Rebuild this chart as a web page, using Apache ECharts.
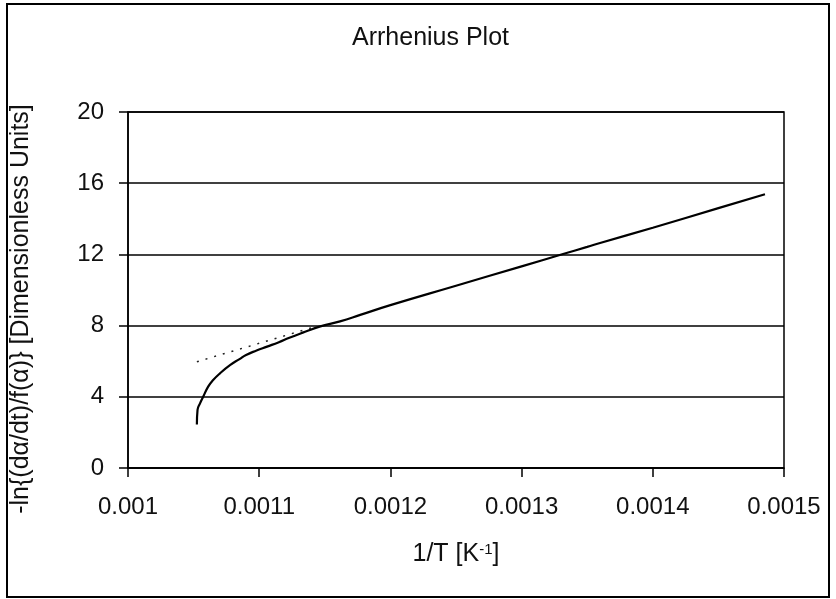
<!DOCTYPE html>
<html>
<head>
<meta charset="utf-8">
<script src="https://cdn.jsdelivr.net/npm/echarts@6/dist/echarts.min.js"></script>
<style>html,body{margin:0;padding:0;background:#fff}#c{width:836px;height:599px}</style>
</head>
<body>
<div id="c"></div>
<script>
const titleText = "Arrhenius Plot";
const xAxisName = "1/T [K";
const yAxisName = "-ln{(d\u03B1/dt)/f(\u03B1)} [Dimensionless Units]";
const xTicks = [0.001, 0.0011, 0.0012, 0.0013, 0.0014, 0.0015];
const yTicks = [0, 4, 8, 12, 16, 20];
// measured curve: 1/T and -ln{(da/dt)/f(a)}
const invT = [0.0010525, 0.001053, 0.0010549, 0.0010573, 0.0010611, 0.0010649, 0.0010701, 0.001078, 0.001085, 0.00109, 0.001098, 0.001106, 0.001115, 0.001123, 0.001135, 0.001146, 0.0011616, 0.001177, 0.0012, 0.00125, 0.0013, 0.0013316, 0.00135, 0.0013598, 0.0014, 0.00145, 0.0014855];
const lnRate = [2.45, 3.26, 3.63, 4.0, 4.57, 4.94, 5.32, 5.79, 6.12, 6.35, 6.6, 6.82, 7.07, 7.32, 7.65, 7.94, 8.24, 8.6, 9.15, 10.24, 11.33, 12.02, 12.42, 12.64, 13.5, 14.6, 15.38];
// dotted linear extrapolation
const fitX = [0.0010525, 0.001141];
const fitY = [5.97, 7.9];

const font = 'Arial, "Liberation Sans", sans-serif';
const fs = 25;
const fsTick = 24;
const chart = echarts.init(document.getElementById('c'));
chart.setOption({
  backgroundColor: '#fff',
  animation: false,
  title: {
    text: titleText, left: 347, top: 21,
    textStyle: {fontFamily: font, fontSize: fs, fontWeight: 'normal', color: '#111'}
  },
  graphic: [{
    type: 'rect', shape: {x: 7, y: 4, width: 822, height: 593},
    style: {fill: 'none', stroke: '#000', lineWidth: 2}, silent: true
  }],
  grid: {left: 128, right: 52, top: 112, bottom: 131, show: true, borderColor: '#000', borderWidth: 1.5, backgroundColor: '#fff'},
  xAxis: {
    type: 'value', min: xTicks[0], max: xTicks[xTicks.length - 1], interval: 0.0001,
    name: '{n|' + xAxisName + '}{s|-1}{n|]}', nameLocation: 'middle', nameGap: 74,
    nameTextStyle: {rich: {
      n: {fontFamily: font, fontSize: fs, color: '#111'},
      s: {fontFamily: font, fontSize: 15, color: '#111', verticalAlign: 'top', padding: [0, 0, 10, 0]}
    }},
    axisLine: {show: true, onZero: false, lineStyle: {color: '#000', width: 1.5}},
    axisTick: {show: true, length: 9, lineStyle: {color: '#000', width: 1.5}},
    axisLabel: {margin: 27, fontFamily: font, fontSize: fsTick, color: '#111',
      formatter: v => { const t = xTicks.find(k => Math.abs(k - v) < 1e-9); return t === undefined ? '' : String(t); }},
    splitLine: {show: false}
  },
  yAxis: {
    type: 'value', min: yTicks[0], max: yTicks[yTicks.length - 1], interval: 4,
    name: yAxisName, nameLocation: 'middle', nameGap: 94,
    nameTextStyle: {fontFamily: font, fontSize: fs, color: '#111', padding: [0, 38, 0, 0]},
    axisLine: {show: true, onZero: false, lineStyle: {color: '#000', width: 1.5}},
    axisTick: {show: true, length: 9, lineStyle: {color: '#000', width: 1.5}},
    axisLabel: {margin: 24, fontFamily: font, fontSize: fsTick, color: '#111'},
    splitLine: {show: true, lineStyle: {color: '#000', width: 1.5}}
  },
  series: [
    {type: 'line', data: invT.map((x, i) => [x, lnRate[i]]), showSymbol: false, smooth: true,
      lineStyle: {color: '#000', width: 2.2}, z: 3},
    {type: 'line', data: fitX.map((x, i) => [x, fitY[i]]), showSymbol: false,
      lineStyle: {color: '#222', width: 1.5, type: [2, 7]}, z: 2}
  ]
});
</script>
</body>
</html>
